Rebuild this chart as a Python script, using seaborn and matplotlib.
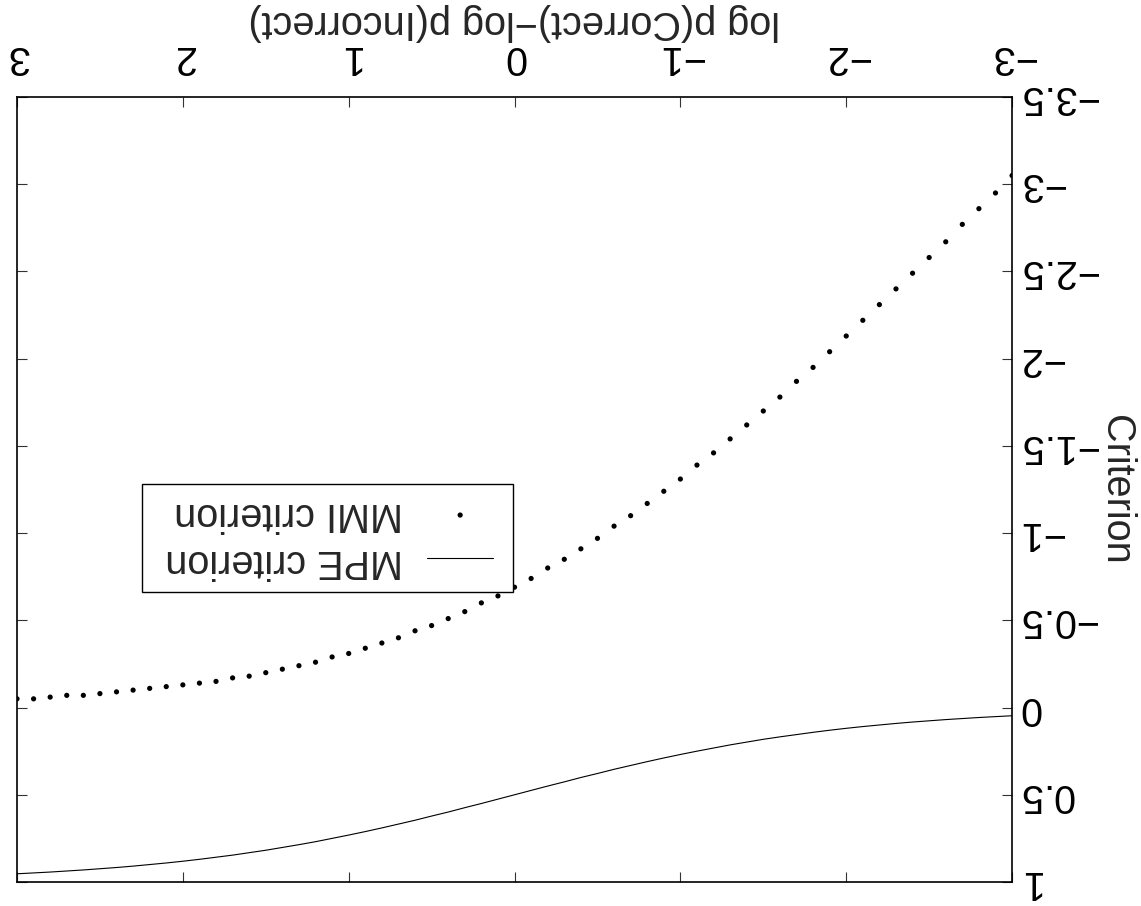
import matplotlib
matplotlib.use("Agg")
import matplotlib.pyplot as plt
from matplotlib.patches import Rectangle
import seaborn as sns
import pandas as pd

# ---- data ----
x_vals = [-3.0, -2.9, -2.8, -2.7, -2.6, -2.5, -2.4, -2.3, -2.2, -2.1,
          -2.0, -1.9, -1.8, -1.7, -1.6, -1.5, -1.4, -1.3, -1.2, -1.1,
          -1.0, -0.9, -0.8, -0.7, -0.6, -0.5, -0.4, -0.3, -0.2, -0.1,
          0.0, 0.1, 0.2, 0.3, 0.4, 0.5, 0.6, 0.7, 0.8, 0.9,
          1.0, 1.1, 1.2, 1.3, 1.4, 1.5, 1.6, 1.7, 1.8, 1.9,
          2.0, 2.1, 2.2, 2.3, 2.4, 2.5, 2.6, 2.7, 2.8, 2.9, 3.0]

mpe_vals = [0.047, 0.052, 0.057, 0.063, 0.069, 0.076, 0.083, 0.091, 0.100, 0.109,
            0.119, 0.130, 0.142, 0.155, 0.168, 0.182, 0.198, 0.214, 0.232, 0.250,
            0.269, 0.289, 0.310, 0.332, 0.354, 0.378, 0.401, 0.426, 0.450, 0.475,
            0.500, 0.525, 0.550, 0.574, 0.599, 0.622, 0.646, 0.668, 0.690, 0.711,
            0.731, 0.750, 0.769, 0.786, 0.802, 0.818, 0.832, 0.846, 0.858, 0.870,
            0.881, 0.891, 0.900, 0.909, 0.917, 0.924, 0.931, 0.937, 0.943, 0.948, 0.953]

mmi_vals = [-3.05, -2.95, -2.86, -2.77, -2.67, -2.58, -2.49, -2.40, -2.31, -2.22,
            -2.13, -2.04, -1.95, -1.87, -1.78, -1.70, -1.62, -1.54, -1.46, -1.39,
            -1.31, -1.24, -1.17, -1.10, -1.04, -0.97, -0.91, -0.85, -0.80, -0.74,
            -0.69, -0.64, -0.60, -0.55, -0.51, -0.47, -0.44, -0.40, -0.37, -0.34,
            -0.31, -0.29, -0.26, -0.24, -0.22, -0.20, -0.18, -0.17, -0.15, -0.14,
            -0.13, -0.12, -0.11, -0.10, -0.09, -0.08, -0.07, -0.07, -0.06, -0.05, -0.05]

series_names = ["MPE criterion", "MMI criterion"]
x_ticks = [-3, -2, -1, 0, 1, 2, 3]
x_tick_labels = ["\u22123", "\u22122", "\u22121", "0", "1", "2", "3"]
y_ticks = [-3.5, -3.0, -2.5, -2.0, -1.5, -1.0, -0.5, 0.0, 0.5, 1.0]
y_tick_labels = ["\u22123.5", "\u22123", "\u22122.5", "\u22122", "\u22121.5",
                 "\u22121", "\u22120.5", "0", "0.5", "1"]
x_label = "log p(Correct)\u2212log p(Incorrect)"
y_label = "Criterion"

df = pd.DataFrame({"x": x_vals, "mpe": mpe_vals, "mmi": mmi_vals})

# ---- style ----
sns.set_theme(style="white")
plt.rcParams["font.family"] = ["Liberation Sans", "DejaVu Sans"]
FS = 28.5

fig = plt.figure(figsize=(11.41, 9.06), dpi=100)
ax = fig.add_axes([0.0149, 0.0265, 0.8721, 0.8664])

sns.lineplot(data=df, x="x", y="mpe", ax=ax, color="black", linewidth=0.8,
             label=series_names[0], legend=False)
sns.scatterplot(data=df, x="x", y="mmi", ax=ax, color="black", s=14,
                edgecolor="none", label=series_names[1], legend=False)

# whole chart is shown rotated by 180 degrees
ax.set_xlim(3, -3)
ax.set_ylim(1, -3.5)

ax.set_xticks(x_ticks, x_tick_labels, rotation=180)
ax.set_yticks(y_ticks, y_tick_labels, rotation=180, va="center")

ax.tick_params(axis="both", direction="in", length=7, width=0.8, color="#333333",
               labelsize=FS, labelcolor="black",
               top=True, bottom=True, left=True, right=True)
ax.tick_params(axis="x", labeltop=True, labelbottom=False, pad=15)
ax.tick_params(axis="y", labelright=True, labelleft=False, pad=4.5)

for sp in ax.spines.values():
    sp.set_visible(True)
    sp.set_color("black")
    sp.set_linewidth(1.2)

ax.xaxis.set_label_position("top")
ax.set_xlabel(x_label, fontsize=FS, rotation=180, va="bottom", labelpad=-2)
ax.yaxis.set_label_position("right")
ax.set_ylabel(y_label, fontsize=FS, rotation=270, va="bottom", labelpad=0)

handles, labels = ax.get_legend_handles_labels()
order = [labels.index(series_names[1]), labels.index(series_names[0])]
leg = ax.legend([handles[i] for i in order], [labels[i] for i in order],
                loc="lower right", bbox_to_anchor=(0.4905, 0.3694),
                borderaxespad=0, markerfirst=False, fontsize=FS,
                frameon=False, borderpad=0.3, handlelength=1.67,
                handletextpad=0.6, labelspacing=0.22)
for t in leg.get_texts():
    t.set_rotation(180)

# legend frame (wider side padding, as in the original figure)
fig.canvas.draw()
bb = leg.get_window_extent(fig.canvas.get_renderer())
inv = ax.transAxes.inverted()
(x0, y0) = inv.transform((bb.x0 - 12, bb.y0))
(x1, y1) = inv.transform((bb.x1 + 8, bb.y1))
frame = Rectangle((x0, y0), x1 - x0, y1 - y0, transform=ax.transAxes,
                  facecolor="white", edgecolor="black", linewidth=1.0,
                  zorder=4.5)
ax.add_patch(frame)

fig.savefig("out.png", dpi=100)
